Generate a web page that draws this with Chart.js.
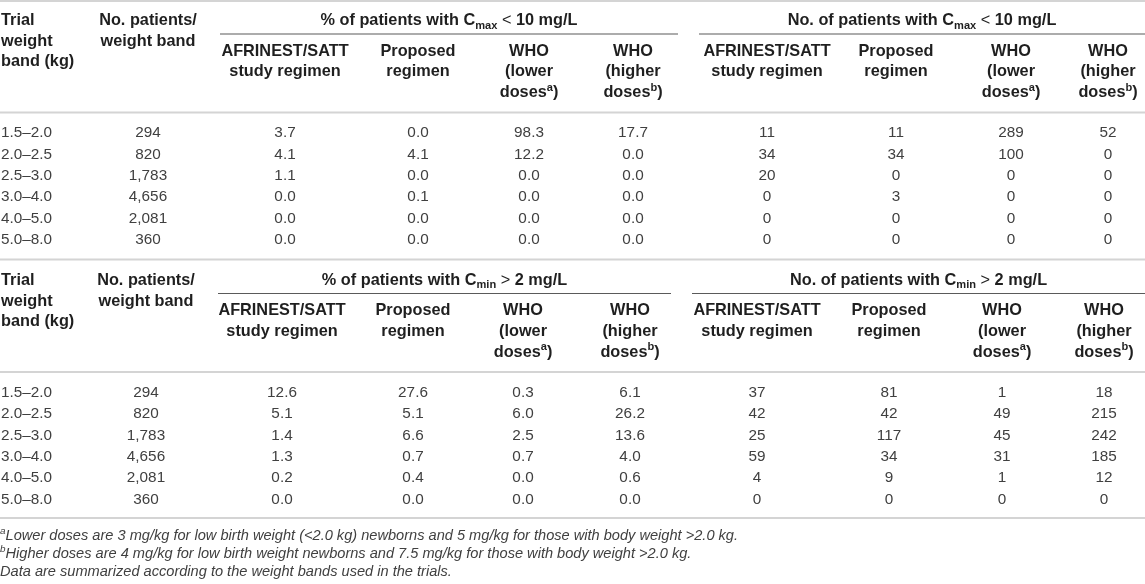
<!DOCTYPE html>
<html>
<head>
<meta charset="utf-8">
<script src="https://cdn.jsdelivr.net/npm/chart.js@4/dist/chart.umd.min.js"></script>
<style>
html,body{margin:0;padding:0;background:#fff;overflow:hidden}
#wrap{width:1145px;height:584px;position:relative}
canvas{display:block}
</style>
</head>
<body>
<div id="wrap"><canvas id="c" width="1145" height="584"></canvas></div>
<script>
// ---------------- DATA ----------------
const weightBands = ['1.5–2.0','2.0–2.5','2.5–3.0','3.0–4.0','4.0–5.0','5.0–8.0'];
const patientsPerBand = [294, 820, 1783, 4656, 2081, 360];

// % of patients with Cmax < 10 mg/L
const cmaxPctAfrinest  = [3.7, 4.1, 1.1, 0.0, 0.0, 0.0];
const cmaxPctProposed  = [0.0, 4.1, 0.0, 0.1, 0.0, 0.0];
const cmaxPctWhoLower  = [98.3, 12.2, 0.0, 0.0, 0.0, 0.0];
const cmaxPctWhoHigher = [17.7, 0.0, 0.0, 0.0, 0.0, 0.0];
// No. of patients with Cmax < 10 mg/L
const cmaxNAfrinest  = [11, 34, 20, 0, 0, 0];
const cmaxNProposed  = [11, 34, 0, 3, 0, 0];
const cmaxNWhoLower  = [289, 100, 0, 0, 0, 0];
const cmaxNWhoHigher = [52, 0, 0, 0, 0, 0];

// % of patients with Cmin > 2 mg/L
const cminPctAfrinest  = [12.6, 5.1, 1.4, 1.3, 0.2, 0.0];
const cminPctProposed  = [27.6, 5.1, 6.6, 0.7, 0.4, 0.0];
const cminPctWhoLower  = [0.3, 6.0, 2.5, 0.7, 0.0, 0.0];
const cminPctWhoHigher = [6.1, 26.2, 13.6, 4.0, 0.6, 0.0];
// No. of patients with Cmin > 2 mg/L
const cminNAfrinest  = [37, 42, 25, 59, 4, 0];
const cminNProposed  = [81, 42, 117, 34, 9, 0];
const cminNWhoLower  = [1, 49, 45, 31, 1, 0];
const cminNWhoHigher = [18, 215, 242, 185, 12, 0];

// Header texts
const firstColHeader = ['Trial', 'weight', 'band (kg)'];
const secondColHeader = ['No. patients/', 'weight band'];
const subColumnHeaders = [
  ['AFRINEST/SATT', 'study regimen'],
  ['Proposed', 'regimen'],
  ['WHO', '(lower', 'doses^{a})'],
  ['WHO', '(higher', 'doses^{b})']
];
const groupHeadersCmax = ['% of patients with C_{max}~{ < }10 mg/L', 'No. of patients with C_{max}~{ < }10 mg/L'];
const groupHeadersCmin = ['% of patients with C_{min}~{ > }2 mg/L', 'No. of patients with C_{min}~{ > }2 mg/L'];
const footnotes = [
  '^{a}Lower doses are 3 mg/kg for low birth weight (<2.0 kg) newborns and 5 mg/kg for those with body weight >2.0 kg.',
  '^{b}Higher doses are 4 mg/kg for low birth weight newborns and 7.5 mg/kg for those with body weight >2.0 kg.',
  'Data are summarized according to the weight bands used in the trials.'
];

// ---------------- LAYOUT (positions in layout units of the hidden linear scales) ----------------
const W = 1145, H = 584;
const sectionLayouts = [
  { top: 0,     colX: [1, 148, 285, 418, 529, 633, 767, 896, 1011, 1108], groups: [[220, 678], [699, 1145]] },
  { top: 259.5, colX: [1, 146, 282, 413, 523, 630, 757, 889, 1002, 1104], groups: [[218, 671], [692, 1145]] }
];
const hdrLineY = [21, 42, 62];
const subHdrLineY = [51.5, 72, 93];
const groupRuleY = 34;
const headerRuleY = 112.5;
const firstRowY = 133, rowStep = 21.4;
const topRuleY = 1, footRuleY = 518;
const footY = [536, 554, 572];

const FAMILY = '"Liberation Sans", Arial, Helvetica, sans-serif';
const headFont = { size: 16.3, weight: 'bold', style: 'normal', color: '#1f1f1f' };
const bodyFont = { size: 15.3, weight: 'normal', style: 'normal', color: '#404040' };
const footFont = { size: 14.6, weight: 'normal', style: 'italic', color: '#404040' };

// ---------------- helpers ----------------
function parseRich(s) {
  const out = []; const re = /([_^~])\{([^}]*)\}/g; let last = 0, m;
  while ((m = re.exec(s))) {
    if (m.index > last) out.push({ t: s.slice(last, m.index) });
    out.push({ t: m[2], mode: m[1] === '_' ? 'sub' : m[1] === '^' ? 'sup' : 'plain' });
    last = re.lastIndex;
  }
  if (last < s.length) out.push({ t: s.slice(last) });
  return out;
}
function drawRich(ctx, s, x, y, align, f) {
  const segs = parseRich(s);
  const fontFor = sg => {
    const sz = (sg.mode === 'sub' || sg.mode === 'sup') ? f.size * 0.68 : f.size;
    const wt = sg.mode === 'plain' ? 'normal' : f.weight;
    return `${f.style} ${wt} ${sz}px ${FAMILY}`;
  };
  let total = 0;
  segs.forEach(sg => { ctx.font = fontFor(sg); sg.w = ctx.measureText(sg.t).width; total += sg.w; });
  let cx = align === 'center' ? x - total / 2 : align === 'right' ? x - total : x;
  ctx.textAlign = 'left'; ctx.textBaseline = 'middle'; ctx.fillStyle = f.color;
  segs.forEach(sg => {
    ctx.font = fontFor(sg);
    const dy = sg.mode === 'sub' ? f.size * 0.3 : sg.mode === 'sup' ? -f.size * 0.32 : 0;
    ctx.fillText(sg.t, cx, y + dy);
    cx += sg.w;
  });
}
const pct = v => v.toFixed(1);
const cnt = v => v.toLocaleString('en-US');

const sections = [
  { groups: groupHeadersCmax,
    columns: [weightBands, patientsPerBand.map(cnt),
      cmaxPctAfrinest.map(pct), cmaxPctProposed.map(pct), cmaxPctWhoLower.map(pct), cmaxPctWhoHigher.map(pct),
      cmaxNAfrinest.map(cnt), cmaxNProposed.map(cnt), cmaxNWhoLower.map(cnt), cmaxNWhoHigher.map(cnt)] },
  { groups: groupHeadersCmin,
    columns: [weightBands, patientsPerBand.map(cnt),
      cminPctAfrinest.map(pct), cminPctProposed.map(pct), cminPctWhoLower.map(pct), cminPctWhoHigher.map(pct),
      cminNAfrinest.map(cnt), cminNProposed.map(cnt), cminNWhoLower.map(cnt), cminNWhoHigher.map(cnt)] }
];

const tablePlugin = {
  id: 'tableDraw',
  afterDraw(chart) {
    const ctx = chart.ctx, xs = chart.scales.x, ys = chart.scales.y;
    const X = v => xs.getPixelForValue(v), Y = v => ys.getPixelForValue(v);
    ctx.save();
    const rule = (y, x0, x1, color, lw) => {
      ctx.beginPath(); ctx.strokeStyle = color; ctx.lineWidth = lw;
      ctx.moveTo(X(x0), Y(y)); ctx.lineTo(X(x1), Y(y)); ctx.stroke();
    };
    const light = '#d4d4d4';
    rule(topRuleY, 0, W, light, 2);
    sections.forEach((sec, si) => {
      const L = sectionLayouts[si], t = L.top;
      if (si > 0) rule(t, 0, W, light, 2);
      firstColHeader.forEach((s, i) => drawRich(ctx, s, X(L.colX[0]), Y(t + hdrLineY[i]), 'left', headFont));
      secondColHeader.forEach((s, i) => drawRich(ctx, s, X(L.colX[1]), Y(t + hdrLineY[i]), 'center', headFont));
      L.groups.forEach((g, gi) => {
        drawRich(ctx, sec.groups[gi], X((g[0] + g[1]) / 2), Y(t + hdrLineY[0]), 'center', headFont);
        rule(t + groupRuleY, g[0], g[1], '#5a5a5a', 1.2);
        subColumnHeaders.forEach((lines, ci) => {
          const cx = L.colX[2 + gi * 4 + ci];
          lines.forEach((s, li) => drawRich(ctx, s, X(cx), Y(t + subHdrLineY[li]), 'center', headFont));
        });
      });
      rule(t + headerRuleY, 0, W, light, 2);
      sec.columns.forEach((col, ci) => {
        col.forEach((val, ri) => {
          drawRich(ctx, val, X(L.colX[ci]), Y(t + firstRowY + ri * rowStep), ci === 0 ? 'left' : 'center', bodyFont);
        });
      });
    });
    rule(footRuleY, 0, W, light, 2);
    footnotes.forEach((s, i) => drawRich(ctx, s, X(0), Y(footY[i]), 'left', footFont));
    ctx.restore();
  }
};

new Chart(document.getElementById('c'), {
  type: 'scatter',
  data: { datasets: [{ data: [], pointRadius: 0 }] },
  options: {
    responsive: false,
    animation: false,
    layout: { padding: 0 },
    plugins: { legend: { display: false }, tooltip: { enabled: false }, title: { display: false } },
    scales: {
      x: { type: 'linear', min: 0, max: W, display: false },
      y: { type: 'linear', min: 0, max: H, reverse: true, display: false }
    }
  },
  plugins: [tablePlugin]
});
</script>
</body>
</html>
